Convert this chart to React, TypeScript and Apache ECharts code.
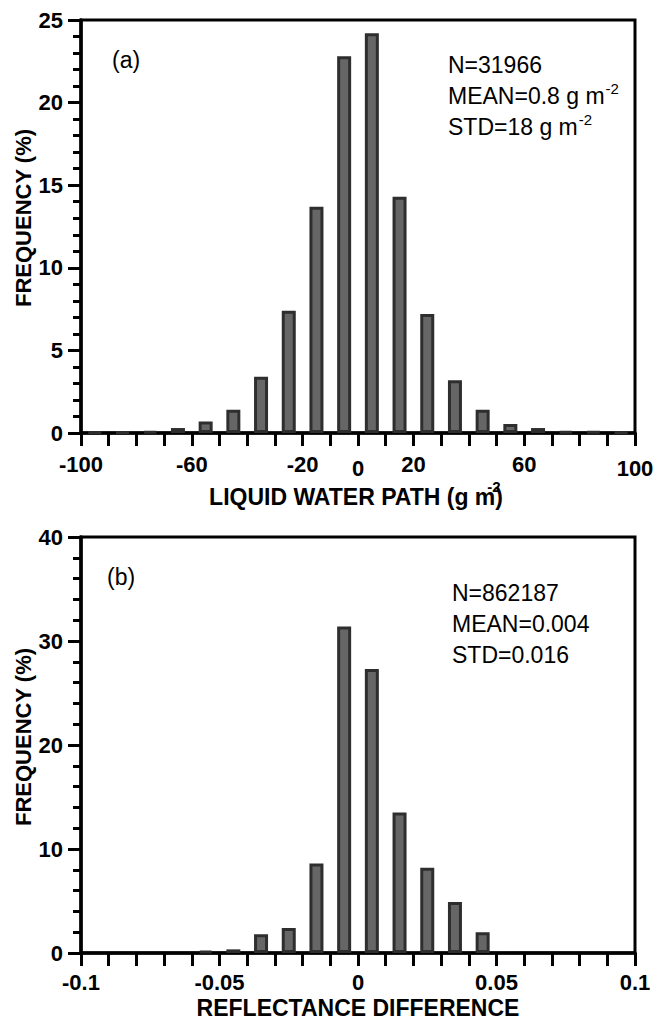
import React, { useEffect, useRef } from "react";
import * as echarts from "echarts";

// Panel (a): liquid water path difference histogram (bin centres, g m-2)
const lwpCenters = [-95, -85, -75, -65, -55, -45, -35, -25, -15, -5, 5, 15, 25, 35, 45, 55, 65, 75, 85, 95];
const lwpFreq = [0.05, 0.05, 0.1, 0.3, 0.7, 1.4, 3.4, 7.4, 13.7, 22.8, 24.2, 14.3, 7.2, 3.2, 1.4, 0.55, 0.3, 0.1, 0.08, 0.05];
const lwpTickLabels = [-100, -60, -20, 0, 20, 60, 100];
const lwpStats = ["N=31966", "MEAN=0.8 g m", "STD=18 g m"];
const lwpStatsSup = [false, true, true];

// Panel (b): reflectance difference histogram (bin centres)
const reflCenters = [-0.095, -0.085, -0.075, -0.065, -0.055, -0.045, -0.035, -0.025, -0.015, -0.005, 0.005, 0.015, 0.025, 0.035, 0.045, 0.055, 0.065, 0.075, 0.085, 0.095];
const reflFreq: (number | null)[] = [null, null, null, null, 0.2, 0.35, 1.8, 2.4, 8.6, 31.4, 27.3, 13.5, 8.2, 4.9, 2.0, null, null, null, null, null];
const reflTickLabels = ["-0.1", "-0.05", "0", "0.05", "0.1"];
const reflStats = ["N=862187", "MEAN=0.004", "STD=0.016"];
const reflStatsSup = [false, false, false];

const FONT = "'Liberation Sans', Arial, Helvetica, sans-serif";
const BAR_FILL = "#666666";
const BAR_EDGE = "#2e2e2e";

function pairs(xs: number[], ys: (number | null)[]) {
  const out: number[][] = [];
  xs.forEach((x, i) => {
    const y = ys[i];
    if (y !== null && y !== undefined) out.push([x, y]);
  });
  return out;
}

function near(a: number, b: number) {
  return Math.abs(a - b) < 1e-7;
}

function measure(t: string, font: string) {
  const c = document.createElement("canvas").getContext("2d");
  if (!c) return t.length * 12;
  c.font = font;
  return c.measureText(t).width;
}

export default function App() {
  const ref = useRef<HTMLDivElement>(null);

  useEffect(() => {
    document.body.style.margin = "0";
    if (!ref.current) return;
    const chart = echarts.init(ref.current, null, { renderer: "svg" });

    const left = 81;
    const width = 554;

    const yAxisBase = {
      type: "value",
      axisLine: { show: true, onZero: false, lineStyle: { color: "#000", width: 3.5 } },
      axisTick: { show: true, length: 13, lineStyle: { color: "#000", width: 3 } },
      minorTick: { show: true, splitNumber: 5, length: 8, lineStyle: { color: "#000", width: 3 } },
      splitLine: { show: false },
      axisLabel: { color: "#000", fontFamily: FONT, fontWeight: "bold", fontSize: 22, margin: 18 },
    };
    const xAxisBase = {
      type: "value",
      axisLine: { show: true, onZero: false, lineStyle: { color: "#000", width: 3.5 } },
      axisTick: { show: true, length: 13, lineStyle: { color: "#000", width: 3 } },
      splitLine: { show: false },
    };

    const barBase = {
      type: "bar",
      barWidth: 14,
      itemStyle: { color: BAR_FILL, borderColor: BAR_EDGE, borderWidth: 3 },
      silent: true,
    };

    const statFont = `23px ${FONT}`;
    const stats = (lines: string[], x: number, y0: number, sup: boolean[]) => {
      const els: any[] = [];
      lines.forEach((t, i) => {
        const y = y0 + i * 31;
        els.push({
          type: "text",
          x,
          y,
          style: { text: t, font: statFont, fill: "#000", align: "left", verticalAlign: "middle" },
        });
        if (sup[i]) {
          els.push({
            type: "text",
            x: x + measure(t, statFont) + 1,
            y: y - 8,
            style: { text: "-2", font: `15px ${FONT}`, fill: "#000", align: "left", verticalAlign: "middle" },
          });
        }
      });
      return els;
    };

    const titleFont = `bold 23px ${FONT}`;
    const titleA = "LIQUID WATER PATH (g m)";
    const titleAX = 356;
    const titleAW = measure(titleA, titleFont);
    const mEnd = titleAX + titleAW / 2 - measure(")", titleFont);

    chart.setOption({
      animation: false,
      grid: [
        { left, width, top: 20, height: 413, show: true, borderColor: "#000", borderWidth: 3, backgroundColor: "transparent" },
        { left, width, top: 537, height: 416, show: true, borderColor: "#000", borderWidth: 3, backgroundColor: "transparent" },
      ],
      xAxis: [
        {
          ...xAxisBase,
          gridIndex: 0,
          min: -100,
          max: 100,
          interval: 10,
          axisLabel: {
            color: "#000",
            fontFamily: FONT,
            fontWeight: "bold",
            fontSize: 22,
            margin: 20,
            showMinLabel: true,
            showMaxLabel: true,
            formatter: (v: number) => {
              const hit = lwpTickLabels.find((t) => near(t, v));
              if (hit === undefined) return "";
              if (hit === 0 || hit === 100) return `{low|${hit}}`;
              return String(hit);
            },
            rich: {
              low: { fontFamily: FONT, fontWeight: "bold", fontSize: 22, color: "#000", padding: [4, 0, 0, 0] },
            },
          },
        },
        {
          ...xAxisBase,
          gridIndex: 1,
          min: -0.1,
          max: 0.1,
          interval: 0.01,
          axisLabel: {
            color: "#000",
            fontFamily: FONT,
            fontWeight: "bold",
            fontSize: 22,
            margin: 18,
            showMinLabel: true,
            showMaxLabel: true,
            formatter: (v: number) => {
              const hit = reflTickLabels.find((t) => near(parseFloat(t), v));
              return hit === undefined ? "" : hit;
            },
          },
        },
      ],
      yAxis: [
        { ...yAxisBase, gridIndex: 0, min: 0, max: 25, interval: 5 },
        { ...yAxisBase, gridIndex: 1, min: 0, max: 40, interval: 10 },
      ],
      series: [
        { ...barBase, xAxisIndex: 0, yAxisIndex: 0, data: pairs(lwpCenters, lwpFreq) },
        { ...barBase, xAxisIndex: 1, yAxisIndex: 1, data: pairs(reflCenters, reflFreq) },
      ],
      graphic: [
        // panel tags
        { type: "text", x: 112, y: 60, style: { text: "(a)", font: statFont, fill: "#000", verticalAlign: "middle" } },
        { type: "text", x: 107, y: 577, style: { text: "(b)", font: statFont, fill: "#000", verticalAlign: "middle" } },
        // statistics
        ...stats(lwpStats, 448, 65, lwpStatsSup),
        ...stats(reflStats, 452, 593, reflStatsSup),
        // y-axis titles
        {
          type: "text",
          x: 23,
          y: 218,
          rotation: Math.PI / 2,
          style: { text: "FREQUENCY (%)", font: `bold 22px ${FONT}`, fill: "#000", align: "center", verticalAlign: "middle" },
        },
        {
          type: "text",
          x: 23,
          y: 737,
          rotation: Math.PI / 2,
          style: { text: "FREQUENCY (%)", font: `bold 22px ${FONT}`, fill: "#000", align: "center", verticalAlign: "middle" },
        },
        // x-axis titles
        {
          type: "text",
          x: titleAX,
          y: 497,
          style: { text: titleA, font: titleFont, fill: "#000", align: "center", verticalAlign: "middle" },
        },
        {
          type: "text",
          x: mEnd - 8,
          y: 486,
          style: { text: "-2", font: `bold 15px ${FONT}`, fill: "#000", align: "left", verticalAlign: "middle" },
        },
        {
          type: "text",
          x: 358,
          y: 1008,
          style: { text: "REFLECTANCE DIFFERENCE", font: titleFont, fill: "#000", align: "center", verticalAlign: "middle" },
        },
      ],
    });

    return () => chart.dispose();
  }, []);

  return <div ref={ref} style={{ width: 666, height: 1023 }} />;
}
